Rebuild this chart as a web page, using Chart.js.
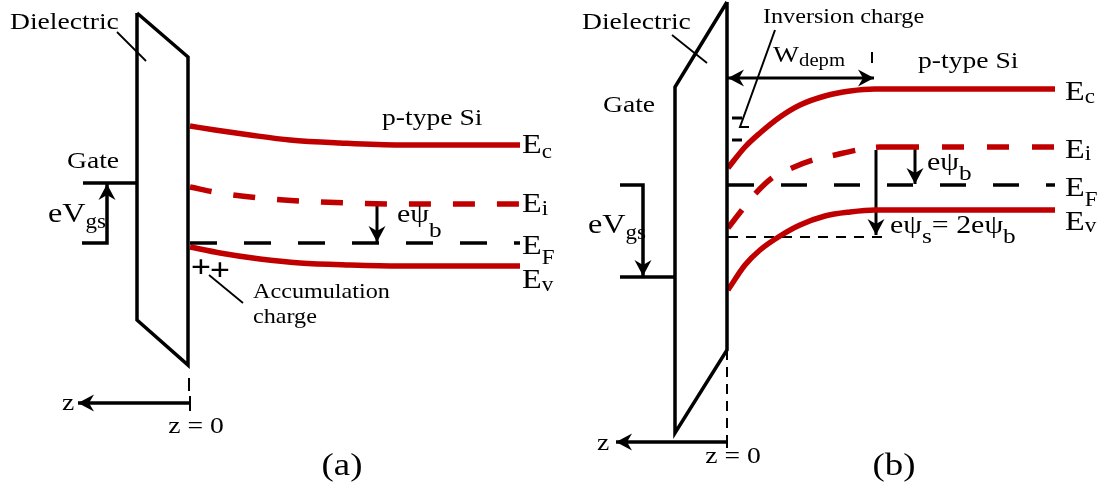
<!DOCTYPE html>
<html>
<head>
<meta charset="utf-8">
<script src="https://cdn.jsdelivr.net/npm/chart.js@4.4.0/dist/chart.umd.min.js"></script>
<style>
  html, body { margin: 0; padding: 0; background: #fff; overflow: hidden; }
  #wrap { width: 1104px; height: 488px; }
</style>
</head>
<body>
<div id="wrap"><canvas id="bands" width="1104" height="488"></canvas></div>
<script>
// ---- Panel (a): accumulation -------------------------------------------
const aDielectric = [[137,13],[188,57],[188,365],[137,320],[137,13]];
const aEc = [[190,126],[215,130],[250,135],[290,140],[340,143],[400,145],[520,145]];
const aEi = [[190,187],[220,193],[260,198],[300,201],[350,203],[400,204],[520,204]];
const aEF = [[190,243],[520,243]];
const aEv = [[190,247],[220,253],[260,259],[300,263],[350,265],[400,266],[520,266]];
const aGateLevel = [[83,183],[137,183]];
const aVgsArrow = [[82,243],[107,243],[107,184]];
const aPsiB = [[377,204],[377,242]];
const aZAxis = [[190,403],[78,403]];
const aZTick = [[190,396],[190,411]];
const aZGuide = [[189,378],[189,391]];
const aDielPointer = [[117,32],[146,61]];
const aAccPointer = [[209,275],[243,303]];

// ---- Panel (b): inversion ----------------------------------------------
const bDielectric = [[727,2],[675,87],[675,433],[727,350],[727,2]];
const bEc = [[728,168],[745,147],[760,133],[780,117],[800,105],[825,96],[850,91],[875,89],[1055,89]];
const bEiBent = [[728,228],[742,210],[755,194],[772,178],[792,168],[813,160],[835,155],[857,150],[880,147],[897,147]];
const bEiFlat = [[897,147],[1055,147]];
const bEF = [[728,185],[1055,185]];
const bEv = [[728,290],[745,265],[760,250],[780,236],[800,225],[825,216],[850,212],[875,210],[1055,210]];
const bSurface = [[728,237],[887,237]];
const bGateTop = [[620,185],[643,185],[643,276]];
const bGateLevel = [[620,277],[675,277]];
const bPsiS = [[876,150],[876,235]];
const bPsiB = [[915,147],[915,184]];
const bWdep = [[728,78],[874,78]];
const bWdepTick = [[872,52],[872,63]];
const bInvPointer = [[775,30],[740,127],[749,127]];
const bInvMarkTop = [[732,118],[742,118]];
const bInvMarkLow = [[732,140],[742,140]];
const bZAxis = [[727,442],[616,442]];
const bZTick = [[727,436],[727,448]];
const bZGuide = [[727,350],[727,440]];
const bDielPointer = [[672,35],[707,63]];

const RED = '#c00000';
const BLACK = '#000000';
const SERIF = '"Liberation Serif", "Times New Roman", serif';

const toPts = arr => arr.map(([x, y]) => ({ x, y }));

function line(arr, color, width, extra) {
  return Object.assign({
    data: toPts(arr),
    showLine: true,
    borderColor: color,
    backgroundColor: color,
    borderWidth: width,
    pointRadius: 0,
    fill: false,
    tension: 0,
    borderCapStyle: 'butt',
    borderJoinStyle: 'miter'
  }, extra || {});
}
const curve = (arr, color, width, extra) =>
  line(arr, color, width, Object.assign({ cubicInterpolationMode: 'monotone' }, extra || {}));

const datasets = [
  // (a)
  line(aDielectric, BLACK, 3.5),
  curve(aEc, RED, 5.5),
  curve(aEi, RED, 5.5, { borderDash: [22, 22] }),
  line(aEF, BLACK, 3.5, { borderDash: [27, 27] }),
  curve(aEv, RED, 5.5),
  line(aGateLevel, BLACK, 3.5),
  line(aVgsArrow, BLACK, 3.5, { arrow: 'end' }),
  line(aPsiB, BLACK, 3, { arrow: 'end' }),
  line(aZAxis, BLACK, 3.5, { arrow: 'end' }),
  line(aZTick, BLACK, 2),
  line(aZGuide, BLACK, 2),
  line(aDielPointer, BLACK, 1.8),
  line(aAccPointer, BLACK, 1.8),
  // (b)
  line(bDielectric, BLACK, 3.5),
  curve(bEc, RED, 5.5),
  curve(bEiBent, RED, 5.5, { borderDash: [23, 21] }),
  line(bEiFlat, RED, 5.5, { borderDash: [22, 23] }),
  line(bEF, BLACK, 3.5, { borderDash: [26, 27] }),
  curve(bEv, RED, 5.5),
  line(bSurface, BLACK, 2, { borderDash: [10, 8] }),
  line(bGateTop, BLACK, 3.5, { arrow: 'end' }),
  line(bGateLevel, BLACK, 3.5),
  line(bPsiS, BLACK, 3, { arrow: 'end' }),
  line(bPsiB, BLACK, 3, { arrow: 'end' }),
  line(bWdep, BLACK, 3, { arrow: 'both' }),
  line(bWdepTick, BLACK, 2),
  line(bInvPointer, BLACK, 2),
  line(bInvMarkTop, BLACK, 3),
  line(bInvMarkLow, BLACK, 3),
  line(bZAxis, BLACK, 3.5, { arrow: 'end' }),
  line(bZTick, BLACK, 2),
  line(bZGuide, BLACK, 2, { borderDash: [10, 7] }),
  line(bDielPointer, BLACK, 1.8)
];

// Text annotations: each has an anchor (in the same units as the data) and runs of text.
const sub = (t, size, dy) => ({ t, size, dy });
const labels = [
  // (a)
  { x: 10,  y: 29,  runs: [{ t: 'Dielectric', size: 24 }] },
  { x: 67,  y: 168, runs: [{ t: 'Gate', size: 24 }] },
  { x: 48,  y: 222, runs: [{ t: 'eV', size: 28 }, sub('gs', 20, 6)] },
  { x: 382, y: 125, runs: [{ t: 'p-type Si', size: 24 }] },
  { x: 522, y: 153, runs: [{ t: 'E', size: 28 }, sub('c', 20, 5)] },
  { x: 522, y: 212, runs: [{ t: 'E', size: 28 }, sub('i', 20, 3)] },
  { x: 522, y: 254, runs: [{ t: 'E', size: 28 }, sub('F', 20, 10)] },
  { x: 522, y: 288, runs: [{ t: 'E', size: 28 }, sub('v', 20, 3)] },
  { x: 397, y: 222, runs: [{ t: 'eψ', size: 26 }, sub('b', 22, 15)] },
  { x: 201, y: 277, align: 'center', runs: [{ t: '+', size: 31, bold: true }] },
  { x: 220, y: 280, align: 'center', runs: [{ t: '+', size: 31, bold: true }] },
  { x: 253, y: 298, runs: [{ t: 'Accumulation', size: 21 }] },
  { x: 253, y: 323, runs: [{ t: 'charge', size: 21 }] },
  { x: 62,  y: 410, runs: [{ t: 'z', size: 24 }] },
  { x: 196, y: 433, align: 'center', runs: [{ t: 'z = 0', size: 24 }] },
  { x: 342, y: 475, align: 'center', runs: [{ t: '(a)', size: 32 }] },
  // (b)
  { x: 582, y: 29,  runs: [{ t: 'Dielectric', size: 24 }] },
  { x: 763, y: 23,  runs: [{ t: 'Inversion charge', size: 21 }] },
  { x: 773, y: 62,  runs: [{ t: 'W', size: 24 }, sub('depm', 18, 4)] },
  { x: 603, y: 112, runs: [{ t: 'Gate', size: 24 }] },
  { x: 918, y: 68,  runs: [{ t: 'p-type Si', size: 24 }] },
  { x: 1065, y: 100, runs: [{ t: 'E', size: 28 }, sub('c', 20, 3)] },
  { x: 1065, y: 158, runs: [{ t: 'E', size: 28 }, sub('i', 20, 2)] },
  { x: 1065, y: 196, runs: [{ t: 'E', size: 28 }, sub('F', 20, 10)] },
  { x: 1065, y: 230, runs: [{ t: 'E', size: 28 }, sub('v', 20, 2)] },
  { x: 927, y: 170, runs: [{ t: 'eψ', size: 26 }, sub('b', 22, 10)] },
  { x: 890, y: 233, runs: [{ t: 'eψ', size: 26 }, sub('s', 22, 10), { t: '= 2eψ', size: 26 }, sub('b', 22, 10)] },
  { x: 588, y: 233, runs: [{ t: 'eV', size: 28 }, sub('gs', 20, 6)] },
  { x: 597, y: 450, runs: [{ t: 'z', size: 24 }] },
  { x: 733, y: 463, align: 'center', runs: [{ t: 'z = 0', size: 24 }] },
  { x: 894, y: 475, align: 'center', runs: [{ t: '(b)', size: 32 }] }
];

const TEXT_STRETCH = 1.15;

const arrowHeads = {
  id: 'arrowHeads',
  afterDatasetsDraw(chart) {
    const ctx = chart.ctx;
    chart.data.datasets.forEach((ds, i) => {
      if (!ds.arrow) return;
      const pts = chart.getDatasetMeta(i).data;
      const head = (tip, from) => {
        const ang = Math.atan2(tip.y - from.y, tip.x - from.x);
        const L = 16, W = 8.5, N = 11;
        ctx.save();
        ctx.translate(tip.x, tip.y);
        ctx.rotate(ang);
        ctx.beginPath();
        ctx.moveTo(0, 0);
        ctx.lineTo(-L, -W);
        ctx.lineTo(-N, 0);
        ctx.lineTo(-L, W);
        ctx.closePath();
        ctx.fillStyle = ds.borderColor;
        ctx.fill();
        ctx.restore();
      };
      const n = pts.length;
      head(pts[n - 1], pts[n - 2]);
      if (ds.arrow === 'both') head(pts[0], pts[1]);
    });
  }
};

const annotations = {
  id: 'annotations',
  afterDraw(chart) {
    const ctx = chart.ctx;
    const xs = chart.scales.x, ys = chart.scales.y;
    ctx.save();
    ctx.fillStyle = '#000';
    ctx.textBaseline = 'alphabetic';
    ctx.textAlign = 'left';
    labels.forEach(lb => {
      const fontOf = r => (r.bold ? 'bold ' : '') + r.size + 'px ' + SERIF;
      let total = 0;
      lb.runs.forEach(r => { ctx.font = fontOf(r); total += ctx.measureText(r.t).width; });
      const px = xs.getPixelForValue(lb.x);
      const py = ys.getPixelForValue(lb.y);
      ctx.save();
      ctx.translate(px, py);
      ctx.scale(TEXT_STRETCH, 1);
      let cx = lb.align === 'center' ? -total / 2 : 0;
      lb.runs.forEach(r => {
        ctx.font = fontOf(r);
        ctx.fillText(r.t, cx, r.dy || 0);
        cx += ctx.measureText(r.t).width;
      });
      ctx.restore();
    });
    ctx.restore();
  }
};

new Chart(document.getElementById('bands').getContext('2d'), {
  type: 'scatter',
  data: { datasets },
  options: {
    responsive: false,
    animation: false,
    events: [],
    layout: { padding: 0 },
    scales: {
      x: { type: 'linear', min: 0, max: 1104, display: false },
      y: { type: 'linear', min: 0, max: 488, reverse: true, display: false }
    },
    plugins: { legend: { display: false }, tooltip: { enabled: false } }
  },
  plugins: [arrowHeads, annotations]
});
</script>
</body>
</html>
